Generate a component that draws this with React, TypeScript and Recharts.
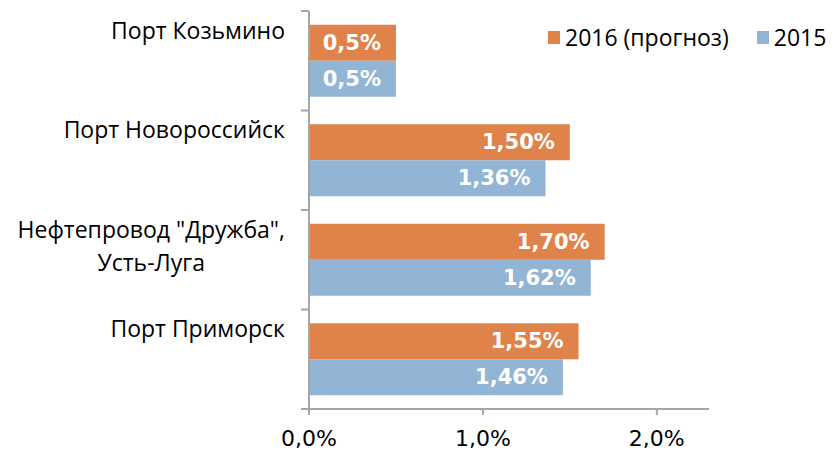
import { BarChart, Bar, XAxis, YAxis, Legend, LabelList } from 'recharts';

const categories = ['Порт Козьмино', 'Порт Новороссийск', 'Нефтепровод "Дружба",\nУсть-Луга', 'Порт Приморск'];
const values2016 = [0.5, 1.5, 1.7, 1.55];
const values2015 = [0.5, 1.36, 1.62, 1.46];
const labelDecimals = [1, 2, 2, 2];
const seriesNames = ['2016 (прогноз)', '2015'];
const xTicks = [0, 1, 2];

const data = categories.map((name, i) => ({
  name,
  y2016: values2016[i],
  y2015: values2015[i],
}));

const ORANGE = '#E0834A';
const BLUE = '#93B5D5';
const AXIS = '#A6A6A6';
const TEXT_FONT = '"Open Sans", sans-serif';
const NUM_FONT = '"DejaVu Sans", sans-serif';
const BAND = 99.5;

let ctx: CanvasRenderingContext2D | null = null;
function textWidth(s: string, font: string) {
  if (!ctx) ctx = document.createElement('canvas').getContext('2d');
  if (!ctx) return s.length * 11;
  ctx.font = font;
  return ctx.measureText(s).width;
}

// category labels sit near the top of each band, like the original
function CategoryTick(props: any) {
  const { x, y, payload, index } = props;
  const lines = String(payload.value).split('\n');
  const maxW = Math.max(...lines.map((l) => textWidth(l, '23px "Open Sans"')));
  const cx = x - maxW / 2;
  const axisX = x + 24;
  return (
    <g>
      <line x1={axisX - 8} x2={axisX} y1={y - BAND / 2} y2={y - BAND / 2} stroke={AXIS} strokeWidth={2} />
      {index === categories.length - 1 && (
        <line x1={axisX - 8} x2={axisX} y1={y + BAND / 2} y2={y + BAND / 2} stroke={AXIS} strokeWidth={2} />
      )}
      {lines.map((l, i) => (
        <text
          key={i}
          x={lines.length > 1 ? cx : x}
          y={y - 31 + i * 33}
          textAnchor={lines.length > 1 ? 'middle' : 'end'}
          dominantBaseline="central"
          fontFamily={TEXT_FONT}
          fontSize={23}
          fill="#000"
        >
          {l}
        </text>
      ))}
    </g>
  );
}

function ValueLabel(props: any) {
  const { x, y, width, height, value, index } = props;
  const txt = Number(value).toFixed(labelDecimals[index]).replace('.', ',') + '%';
  return (
    <text
      x={x + width - 15}
      y={y + height / 2}
      textAnchor="end"
      dominantBaseline="central"
      fontFamily={NUM_FONT}
      fontWeight="bold"
      fontSize={21}
      fill="#fff"
    >
      {txt}
    </text>
  );
}

function LegendBox(props: any) {
  const items = [...(props.payload || [])].sort(
    (a: any, b: any) => seriesNames.indexOf(a.value) - seriesNames.indexOf(b.value)
  );
  return (
    <div style={{ display: 'flex', alignItems: 'center', fontFamily: TEXT_FONT, fontSize: 23, color: '#000' }}>
      {items.map((p: any, i: number) => (
        <div key={i} style={{ display: 'flex', alignItems: 'center', marginRight: i === 0 ? 28 : 0 }}>
          <span style={{ width: 12, height: 13, background: p.color, display: 'inline-block', marginRight: 5 }} />
          <span>{p.value}</span>
        </div>
      ))}
    </div>
  );
}

export default function App() {
  return (
    <div style={{ position: 'absolute', left: 0, top: 0, background: '#fff' }}>
      <BarChart
        width={832}
        height={450}
        data={data}
        layout="vertical"
        margin={{ top: 11, right: 123, bottom: 0, left: 0 }}
        barCategoryGap="13.8%"
        barGap={0}
      >
        <XAxis
          type="number"
          domain={[0, 2.3]}
          ticks={xTicks}
          height={41}
          tickSize={6}
          tickMargin={15}
          tickFormatter={(v: number) => v.toFixed(1).replace('.', ',') + '%'}
          axisLine={{ stroke: AXIS, strokeWidth: 2 }}
          tickLine={{ stroke: AXIS, strokeWidth: 2 }}
          tick={{ fill: '#000', fontFamily: NUM_FONT, fontSize: 22 }}
        />
        <YAxis
          type="category"
          dataKey="name"
          width={309}
          tickSize={8}
          tickMargin={16}
          tickLine={false}
          axisLine={{ stroke: AXIS, strokeWidth: 2 }}
          tick={<CategoryTick />}
          interval={0}
        />
        <Legend
          layout="horizontal"
          verticalAlign="middle"
          align="center"
          content={<LegendBox />}
          wrapperStyle={{ position: 'absolute', left: 548, top: 21, width: 'auto' }}
        />
        <Bar dataKey="y2016" name={seriesNames[0]} fill={ORANGE} isAnimationActive={false}>
          <LabelList dataKey="y2016" content={<ValueLabel />} />
        </Bar>
        <Bar dataKey="y2015" name={seriesNames[1]} fill={BLUE} isAnimationActive={false}>
          <LabelList dataKey="y2015" content={<ValueLabel />} />
        </Bar>
      </BarChart>
    </div>
  );
}
